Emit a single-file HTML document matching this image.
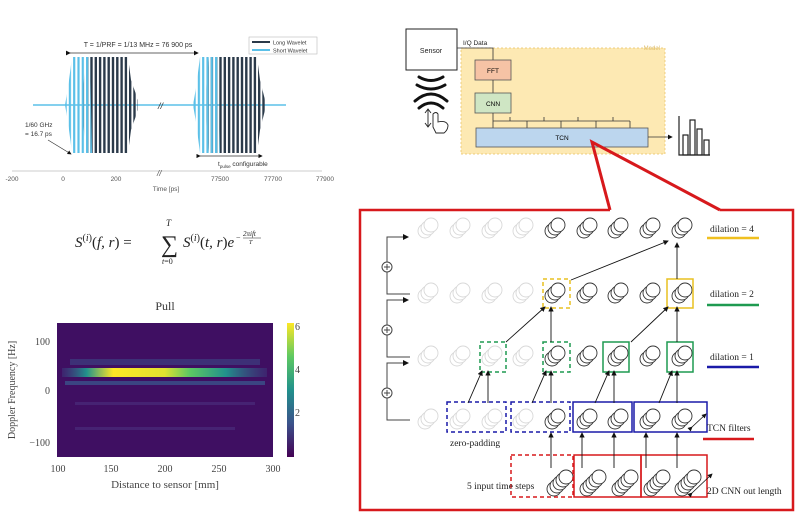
<!DOCTYPE html>
<html><head><meta charset="utf-8"><style>
html,body{margin:0;padding:0;background:#fff;}
svg{display:block;font-family:"Liberation Sans",sans-serif;}
.serif{font-family:"Liberation Serif",serif;}
</style></head><body>
<svg width="800" height="521" viewBox="0 0 800 521" xmlns="http://www.w3.org/2000/svg">
<defs>
<pattern id="dk" width="4.3" height="10" patternUnits="userSpaceOnUse"><rect width="2.4" height="10" fill="#2b3a4a"/></pattern>
<pattern id="lb" width="4.3" height="10" patternUnits="userSpaceOnUse"><rect width="2.2" height="10" fill="#5bc0e8"/></pattern>
<g id="cd" fill="#fff" stroke="#333" stroke-width="0.9"><circle cx="-3" cy="3" r="7"/><circle cx="0" cy="0" r="7"/><circle cx="3" cy="-3" r="7"/></g>
<g id="cf" fill="#fff" stroke="#d8d8d8" stroke-width="0.9"><circle cx="-3" cy="3" r="7"/><circle cx="0" cy="0" r="7"/><circle cx="3" cy="-3" r="7"/></g>
<g id="c5" fill="#fff" stroke="#333" stroke-width="0.9"><circle cx="-6" cy="6" r="7"/><circle cx="-3" cy="3" r="7"/><circle cx="0" cy="0" r="7"/><circle cx="3" cy="-3" r="7"/><circle cx="6" cy="-6" r="7"/></g>
<marker id="ah" markerWidth="6" markerHeight="6" refX="5" refY="3" orient="auto"><path d="M0,0 L6,3 L0,6z" fill="#111"/></marker>
<linearGradient id="vir" x1="0" y1="1" x2="0" y2="0"><stop offset="0" stop-color="#440154"/><stop offset="0.25" stop-color="#3b528b"/><stop offset="0.5" stop-color="#21918c"/><stop offset="0.75" stop-color="#5ec962"/><stop offset="1" stop-color="#fde725"/></linearGradient>
<linearGradient id="band" x1="0" x2="1"><stop offset="0" stop-color="#3b528b" stop-opacity="0.3"/><stop offset="0.12" stop-color="#21918c"/><stop offset="0.25" stop-color="#fde725"/><stop offset="0.5" stop-color="#e0e030"/><stop offset="0.62" stop-color="#5ec962"/><stop offset="0.8" stop-color="#21918c"/><stop offset="1" stop-color="#3b528b" stop-opacity="0.3"/></linearGradient>
</defs>

<!-- waveform panel -->
<line x1="33" y1="105" x2="286" y2="105" stroke="#5bc0e8" stroke-width="1.5"/>
<polygon points="82,100 86,57 128,57 131,80 138,100 138,110 131,130 128,153 86,153 82,110" fill="url(#dk)"/>
<polygon points="65,105 68,88 72,57 90,57 92,153 72,153 68,122" fill="url(#lb)"/>
<polygon points="205,100 209,57 257,57 260,80 265,100 265,110 260,130 257,153 209,153 205,110" fill="url(#dk)"/>
<polygon points="193,105 196,88 200,57 218,57 220,153 200,153 196,122" fill="url(#lb)"/>
<text x="158" y="109" font-size="9" fill="#333" font-style="italic">//</text>
<text x="138" y="47" font-size="7" fill="#333" text-anchor="middle">T = 1/PRF = 1/13 MHz = 76 900 ps</text>
<line x1="70" y1="53" x2="198" y2="53" stroke="#333" stroke-width="0.8" marker-end="url(#ah)" marker-start="url(#ah)"/>
<rect x="249" y="37" width="68" height="17" fill="#fff" stroke="#bbb" stroke-width="0.6"/>
<line x1="252" y1="42" x2="270" y2="42" stroke="#2b3a4a" stroke-width="2"/><text x="273" y="44.5" font-size="5.5" fill="#333">Long Wavelet</text>
<line x1="252" y1="50" x2="270" y2="50" stroke="#5bc0e8" stroke-width="2"/><text x="273" y="52.5" font-size="5.5" fill="#333">Short Wavelet</text>
<text x="25" y="127" font-size="6.5" fill="#333">1/60 GHz</text><text x="25" y="136" font-size="6.5" fill="#333">= 16.7 ps</text>
<line x1="48" y1="140" x2="71" y2="154" stroke="#333" stroke-width="0.7" marker-end="url(#ah)"/>
<line x1="200" y1="156" x2="262" y2="156" stroke="#333" stroke-width="0.7" marker-end="url(#ah)" marker-start="url(#ah)"/>
<text x="218" y="166" font-size="6.5" fill="#333">t<tspan font-size="4.5" dy="2">pulse</tspan><tspan dy="-2"> configurable</tspan></text>
<line x1="12" y1="171" x2="322" y2="171" stroke="#bbb" stroke-width="0.8"/>
<text x="157" y="176" font-size="8" fill="#555" font-style="italic">//</text>
<g font-size="6.5" fill="#555" text-anchor="middle"><text x="12" y="181">-200</text><text x="63" y="181">0</text><text x="116" y="181">200</text><text x="220" y="181">77500</text><text x="273" y="181">77700</text><text x="325" y="181">77900</text><text x="166" y="191">Time [ps]</text></g>

<!-- formula -->
<g class="serif" font-size="15" fill="#222" font-style="italic">
<text x="75" y="247">S<tspan font-size="10" dy="-6" font-style="normal">(</tspan><tspan font-size="10">i</tspan><tspan font-size="10" font-style="normal">)</tspan><tspan dy="6" font-style="normal">(</tspan>f, r<tspan font-style="normal">) =</tspan></text>
<text x="161" y="252" font-size="24" font-style="normal">∑</text>
<text x="166" y="226" font-size="9">T</text><text x="162" y="264" font-size="8">t<tspan font-style="normal">=0</tspan></text>
<text x="183" y="247">S<tspan font-size="10" dy="-6" font-style="normal">(</tspan><tspan font-size="10">i</tspan><tspan font-size="10" font-style="normal">)</tspan><tspan dy="6" font-style="normal">(</tspan>t, r<tspan font-style="normal">)</tspan>e</text>
<text x="236" y="240" font-size="8" font-style="normal">−</text><text x="243" y="236" font-size="7">2πift</text>
<line x1="243" y1="238" x2="261" y2="238" stroke="#222" stroke-width="0.5"/><text x="249" y="244" font-size="6">T</text>
</g>

<!-- heatmap -->
<text x="165" y="310" class="serif" font-size="12" fill="#333" text-anchor="middle">Pull</text>
<rect x="57" y="323" width="216" height="134" fill="#3f0f62"/>
<rect x="70" y="359" width="190" height="6" fill="#3b528b" opacity="0.5"/>
<rect x="62" y="368" width="205" height="9" fill="url(#band)"/>
<rect x="65" y="381" width="200" height="4" fill="#3b528b" opacity="0.8"/>
<rect x="75" y="402" width="180" height="3" fill="#482878" opacity="0.8"/>
<rect x="75" y="427" width="160" height="3" fill="#482878" opacity="0.8"/>
<rect x="287" y="323" width="7" height="134" fill="url(#vir)"/>
<g class="serif" font-size="10" fill="#444">
<text x="295" y="330">6</text><text x="295" y="373">4</text><text x="295" y="416">2</text>
<text x="50" y="345" text-anchor="end">100</text><text x="50" y="394" text-anchor="end">0</text><text x="50" y="446" text-anchor="end">−100</text>
<g text-anchor="middle"><text x="58" y="472">100</text><text x="111" y="472">150</text><text x="165" y="472">200</text><text x="219" y="472">250</text><text x="273" y="472">300</text>
<text x="165" y="488" font-size="11">Distance to sensor [mm]</text></g>
<text transform="translate(15,390) rotate(-90)" text-anchor="middle" font-size="10">Doppler Frequency [Hz]</text>
</g>

<!-- model diagram -->
<rect x="461" y="48" width="204" height="106" fill="#fde9b3" stroke="#e8c060" stroke-width="0.7" stroke-dasharray="2,2"/>
<text x="660" y="50" font-size="6" fill="#e0c070" text-anchor="end">Model</text>
<rect x="406" y="29" width="51" height="41" fill="#fff" stroke="#222" stroke-width="1"/>
<text x="431" y="53" font-size="7" text-anchor="middle" fill="#222">Sensor</text>
<text x="463" y="45" font-size="6.5" fill="#222">I/Q Data</text>
<polyline points="457,48 493,48 493,60" fill="none" stroke="#333" stroke-width="0.8"/>
<rect x="475" y="60" width="36" height="20" fill="#f6c3a5" stroke="#555" stroke-width="0.8"/><text x="493" y="73" font-size="6.5" text-anchor="middle">FFT</text>
<line x1="493" y1="80" x2="493" y2="93" stroke="#333" stroke-width="0.8"/>
<rect x="475" y="93" width="36" height="20" fill="#cfe6c4" stroke="#555" stroke-width="0.8"/><text x="493" y="106" font-size="6.5" text-anchor="middle">CNN</text>
<polyline points="493,113 493,128" stroke="#333" stroke-width="0.8"/>
<line x1="493" y1="121" x2="630" y2="121" stroke="#333" stroke-width="0.8"/>
<g stroke="#333" stroke-width="0.8"><line x1="527" y1="121" x2="527" y2="128"/><line x1="561" y1="121" x2="561" y2="128"/><line x1="596" y1="121" x2="596" y2="128"/><line x1="630" y1="121" x2="630" y2="128"/>
<line x1="510" y1="117" x2="510" y2="121"/><line x1="544" y1="117" x2="544" y2="121"/><line x1="578" y1="117" x2="578" y2="121"/><line x1="613" y1="117" x2="613" y2="121"/></g>
<rect x="476" y="128" width="172" height="19" fill="#bcd6ee" stroke="#555" stroke-width="0.8"/><text x="562" y="140" font-size="6.5" text-anchor="middle">TCN</text>
<line x1="648" y1="137" x2="672" y2="137" stroke="#333" stroke-width="0.8" marker-end="url(#ah)"/>
<g fill="none" stroke="#222" stroke-width="1.2"><polyline points="679,116 679,155 710,155"/><rect x="683" y="135" width="5" height="20"/><rect x="690" y="120" width="5" height="35"/><rect x="697" y="129" width="5" height="26"/><rect x="704" y="140" width="5" height="15"/></g>
<g fill="none" stroke="#111" stroke-width="3" stroke-linecap="round"><path d="M419,77 Q431,84 443,77"/><path d="M417,85 Q431,93 445,85"/><path d="M415,101 Q431,87 447,101"/><path d="M419,108 Q431,98 443,108"/></g>
<g fill="none" stroke="#222" stroke-width="0.9"><path d="M425,113 l3,-4 l3,4 M428,109 v18 M425,123 l3,4 l3,-4"/><path d="M433,127 v-13 q3,-3 5,0 v8 q8,-2 10,3 q0,5 -4,8 h-8z"/></g>
<!-- red callout -->
<polyline points="610,210 592,142 720,210" fill="none" stroke="#d7191c" stroke-width="3"/>
<polyline points="610,210 360,210 360,510 793,510 793,210 720,210" fill="none" stroke="#d7191c" stroke-width="2.5"/>

<!-- TCN grid -->
<g>
<use href="#cf" x="428" y="228"/><use href="#cf" x="460" y="228"/><use href="#cf" x="492" y="228"/><use href="#cf" x="523" y="228"/>
<use href="#cd" x="555" y="228"/><use href="#cd" x="587" y="228"/><use href="#cd" x="618" y="228"/><use href="#cd" x="650" y="228"/><use href="#cd" x="682" y="228"/>
<use href="#cf" x="428" y="293"/><use href="#cf" x="460" y="293"/><use href="#cf" x="492" y="293"/><use href="#cf" x="523" y="293"/>
<use href="#cd" x="555" y="293"/><use href="#cd" x="587" y="293"/><use href="#cd" x="618" y="293"/><use href="#cd" x="650" y="293"/><use href="#cd" x="682" y="293"/>
<use href="#cf" x="428" y="356"/><use href="#cf" x="460" y="356"/><use href="#cf" x="492" y="356"/><use href="#cf" x="523" y="356"/>
<use href="#cd" x="555" y="356"/><use href="#cd" x="587" y="356"/><use href="#cd" x="618" y="356"/><use href="#cd" x="650" y="356"/><use href="#cd" x="682" y="356"/>
<use href="#cf" x="428" y="419"/><use href="#cf" x="460" y="419"/><use href="#cf" x="492" y="419"/><use href="#cf" x="523" y="419"/>
<use href="#cd" x="555" y="419"/><use href="#cd" x="587" y="419"/><use href="#cd" x="618" y="419"/><use href="#cd" x="650" y="419"/><use href="#cd" x="682" y="419"/>
<use href="#c5" x="560" y="483"/><use href="#c5" x="593" y="483"/><use href="#c5" x="625" y="483"/><use href="#c5" x="657" y="483"/><use href="#c5" x="688" y="483"/>
</g>
<g fill="none" stroke-width="1.5">
<rect x="447" y="402" width="59" height="30" stroke="#1a1aa8" stroke-dasharray="4,3"/>
<rect x="511" y="402" width="59" height="30" stroke="#1a1aa8" stroke-dasharray="4,3"/>
<rect x="573" y="402" width="59" height="30" stroke="#1a1aa8"/>
<rect x="634" y="402" width="73" height="30" stroke="#1a1aa8"/>
<rect x="480" y="342" width="26" height="30" stroke="#1e9a50" stroke-dasharray="4,3"/>
<rect x="543" y="342" width="27" height="30" stroke="#1e9a50" stroke-dasharray="4,3"/>
<rect x="603" y="342" width="26" height="30" stroke="#1e9a50"/>
<rect x="667" y="342" width="26" height="30" stroke="#1e9a50"/>
<rect x="543" y="279" width="27" height="29" stroke="#e8c020" stroke-dasharray="4,3"/>
<rect x="667" y="279" width="26" height="29" stroke="#e8c020"/>
<rect x="511" y="455" width="62" height="42" stroke="#d7191c" stroke-dasharray="4,3"/>
<rect x="574" y="455" width="67" height="42" stroke="#d7191c"/>
<rect x="641" y="455" width="66" height="42" stroke="#d7191c"/>
</g>
<g stroke="#111" stroke-width="0.9" marker-end="url(#ah)">
<line x1="551" y1="468" x2="551" y2="433"/><line x1="582" y1="468" x2="582" y2="433"/><line x1="614" y1="468" x2="614" y2="433"/><line x1="646" y1="468" x2="646" y2="433"/><line x1="677" y1="468" x2="677" y2="433"/>
<line x1="468" y1="403" x2="482" y2="371"/><line x1="488" y1="403" x2="488" y2="371"/>
<line x1="532" y1="403" x2="546" y2="371"/><line x1="551" y1="403" x2="551" y2="371"/>
<line x1="595" y1="403" x2="609" y2="371"/><line x1="614" y1="403" x2="614" y2="371"/>
<line x1="659" y1="403" x2="672" y2="371"/><line x1="677" y1="403" x2="677" y2="371"/>
<line x1="506" y1="342" x2="545" y2="307"/><line x1="551" y1="342" x2="551" y2="307"/>
<line x1="631" y1="342" x2="668" y2="307"/><line x1="677" y1="342" x2="677" y2="307"/>
<line x1="571" y1="280" x2="668" y2="241"/><line x1="677" y1="279" x2="677" y2="243"/>
</g>
<line x1="692" y1="427" x2="706" y2="414" stroke="#111" stroke-width="0.8" marker-end="url(#ah)" marker-start="url(#ah)"/>
<line x1="692" y1="493" x2="712" y2="474" stroke="#111" stroke-width="0.8" marker-end="url(#ah)" marker-start="url(#ah)"/>
<!-- left bracket -->
<g fill="none" stroke="#444" stroke-width="1">
<polyline points="410,420 387,420 387,363 408,363" marker-end="url(#ah)"/>
<polyline points="410,357 387,357 387,300 408,300" marker-end="url(#ah)"/>
<polyline points="410,294 387,294 387,237 408,237" marker-end="url(#ah)"/>
<circle cx="387" cy="393" r="5" fill="#fff"/><circle cx="387" cy="330" r="5" fill="#fff"/><circle cx="387" cy="267" r="5" fill="#fff"/>
<path d="M384,393h6M387,390v6M384,330h6M387,327v6M384,267h6M387,264v6"/>
</g>
<g class="serif" font-size="9.5" fill="#222">
<text x="710" y="232">dilation = 4</text><text x="710" y="297">dilation = 2</text><text x="710" y="360">dilation = 1</text>
<text x="707" y="431">TCN filters</text><text x="707" y="494">2D CNN out length</text>
<text x="450" y="446">zero-padding</text><text x="467" y="489">5 input time steps</text>
</g>
<line x1="707" y1="238" x2="759" y2="238" stroke="#f0c020" stroke-width="2.5"/>
<line x1="707" y1="305" x2="759" y2="305" stroke="#1e9a50" stroke-width="2.5"/>
<line x1="707" y1="367" x2="759" y2="367" stroke="#1a1aa8" stroke-width="2.5"/>
<line x1="703" y1="439" x2="754" y2="439" stroke="#d7191c" stroke-width="2.5"/>
</svg>
</body></html>
